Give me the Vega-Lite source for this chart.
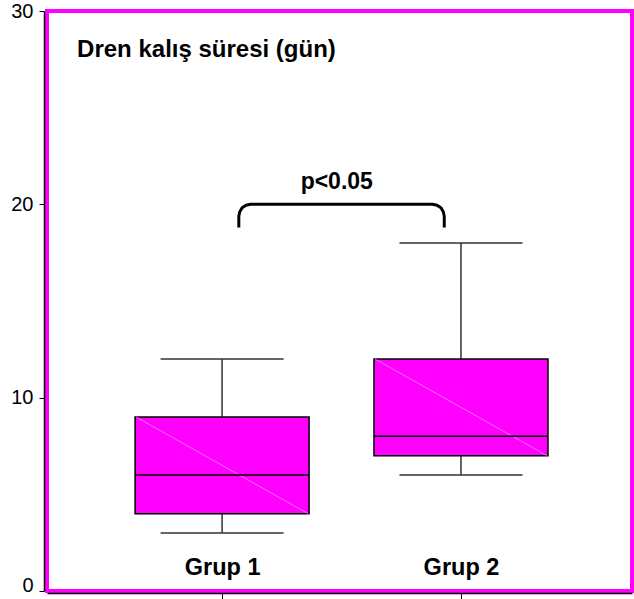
{
  "$schema": "https://vega.github.io/schema/vega-lite/v6.json",
  "autosize": {"type": "none"},
  "padding": {"left": 47, "top": 11, "right": 2, "bottom": 8},
  "width": 585,
  "height": 580,
  "background": "white",
  "config": {
    "font": "Liberation Sans",
    "view": {"stroke": "#ff00ff", "strokeWidth": 4}
  },
  "datasets": {
    "boxes": [
      {"grup": 1, "min": 3, "q1": 4, "median": 6, "q3": 9, "max": 12},
      {"grup": 2, "min": 6, "q1": 7, "median": 8, "q3": 12, "max": 18}
    ],
    "bracket": [
      {"i": 0, "x": 1.07, "y": 18.8},
      {"i": 1, "x": 1.07, "y": 19.38},
      {"i": 2, "x": 1.074, "y": 19.62},
      {"i": 3, "x": 1.084, "y": 19.82},
      {"i": 4, "x": 1.1, "y": 19.95},
      {"i": 5, "x": 1.119, "y": 20},
      {"i": 6, "x": 1.881, "y": 20},
      {"i": 7, "x": 1.9, "y": 19.95},
      {"i": 8, "x": 1.916, "y": 19.82},
      {"i": 9, "x": 1.926, "y": 19.62},
      {"i": 10, "x": 1.93, "y": 19.38},
      {"i": 11, "x": 1.93, "y": 18.8}
    ],
    "notes": [
      {"label": "p<0.05", "x": 1.48, "y": 20.8}
    ],
    "heading": [
      {"label": "Dren kalış süresi (gün)", "x": 0.393, "y": 27.6}
    ]
  },
  "layer": [
    {
      "data": {"name": "boxes"},
      "mark": {"type": "rule", "color": "#333333", "strokeWidth": 1.5},
      "encoding": {
        "x": {
          "field": "grup",
          "type": "quantitative",
          "scale": {"domain": [0.288, 2.695], "nice": false, "zero": false},
          "axis": {
            "title": null,
            "values": [1, 2],
            "labelExpr": "'Grup ' + datum.value",
            "grid": false,
            "offset": 2,
            "domainColor": "black",
            "domainWidth": 1.5,
            "tickColor": "black",
            "tickSize": 6,
            "tickWidth": 1,
            "labelFont": "Liberation Sans",
            "labelFontSize": 23.5,
            "labelFontWeight": "bold",
            "labelColor": "black",
            "labelBaseline": "alphabetic",
            "labelPadding": -25,
            "labelFlush": false
          }
        },
        "y": {
          "field": "min",
          "type": "quantitative",
          "scale": {"domain": [0, 30], "nice": false, "zero": true},
          "axis": {
            "title": null,
            "values": [0, 10, 20, 30],
            "grid": false,
            "offset": 3,
            "domainColor": "black",
            "domainWidth": 1.5,
            "tickColor": "black",
            "tickSize": 5,
            "tickWidth": 1,
            "labelFont": "Liberation Sans",
            "labelFontSize": 20,
            "labelColor": "black",
            "labelPadding": 6,
            "labelBaseline": {"condition": {"test": "datum.value == 0", "value": "alphabetic"}, "value": "middle"}
          }
        },
        "y2": {"field": "max"}
      }
    },
    {
      "data": {"name": "boxes"},
      "mark": {"type": "bar", "orient": "vertical", "width": 174, "fill": "#ff00ff", "stroke": "black", "strokeWidth": 1.5},
      "encoding": {
        "x": {"field": "grup", "type": "quantitative"},
        "y": {"field": "q1", "type": "quantitative"},
        "y2": {"field": "q3"}
      }
    },
    {
      "data": {"name": "boxes"},
      "mark": {"type": "rule", "color": "#ff99ff", "strokeWidth": 0.7, "xOffset": -86, "x2Offset": 86},
      "encoding": {
        "x": {"field": "grup", "type": "quantitative"},
        "x2": {"field": "grup"},
        "y": {"field": "q3", "type": "quantitative"},
        "y2": {"field": "q1"}
      }
    },
    {
      "data": {"name": "boxes"},
      "mark": {"type": "rule", "color": "black", "strokeWidth": 1.5, "xOffset": -87, "x2Offset": 87},
      "encoding": {
        "x": {"field": "grup", "type": "quantitative"},
        "x2": {"field": "grup"},
        "y": {"field": "median", "type": "quantitative"}
      }
    },
    {
      "data": {"name": "boxes"},
      "mark": {"type": "rule", "color": "#333333", "strokeWidth": 1.5, "xOffset": -61.5, "x2Offset": 61.5},
      "encoding": {
        "x": {"field": "grup", "type": "quantitative"},
        "x2": {"field": "grup"},
        "y": {"field": "max", "type": "quantitative"}
      }
    },
    {
      "data": {"name": "boxes"},
      "mark": {"type": "rule", "color": "#333333", "strokeWidth": 1.5, "xOffset": -61.5, "x2Offset": 61.5},
      "encoding": {
        "x": {"field": "grup", "type": "quantitative"},
        "x2": {"field": "grup"},
        "y": {"field": "min", "type": "quantitative"}
      }
    },
    {
      "data": {"name": "bracket"},
      "mark": {"type": "line", "color": "black", "strokeWidth": 3, "strokeJoin": "round", "strokeCap": "butt"},
      "encoding": {
        "x": {"field": "x", "type": "quantitative"},
        "y": {"field": "y", "type": "quantitative"},
        "order": {"field": "i", "type": "quantitative"}
      }
    },
    {
      "data": {"name": "notes"},
      "mark": {"type": "text", "font": "Liberation Sans", "fontSize": 23, "fontWeight": "bold", "color": "black", "align": "center", "baseline": "alphabetic"},
      "encoding": {
        "x": {"field": "x", "type": "quantitative"},
        "y": {"field": "y", "type": "quantitative"},
        "text": {"field": "label"}
      }
    },
    {
      "data": {"name": "heading"},
      "mark": {"type": "text", "font": "Liberation Sans", "fontSize": 24, "fontWeight": "bold", "color": "black", "align": "left", "baseline": "alphabetic"},
      "encoding": {
        "x": {"field": "x", "type": "quantitative"},
        "y": {"field": "y", "type": "quantitative"},
        "text": {"field": "label"}
      }
    }
  ]
}
